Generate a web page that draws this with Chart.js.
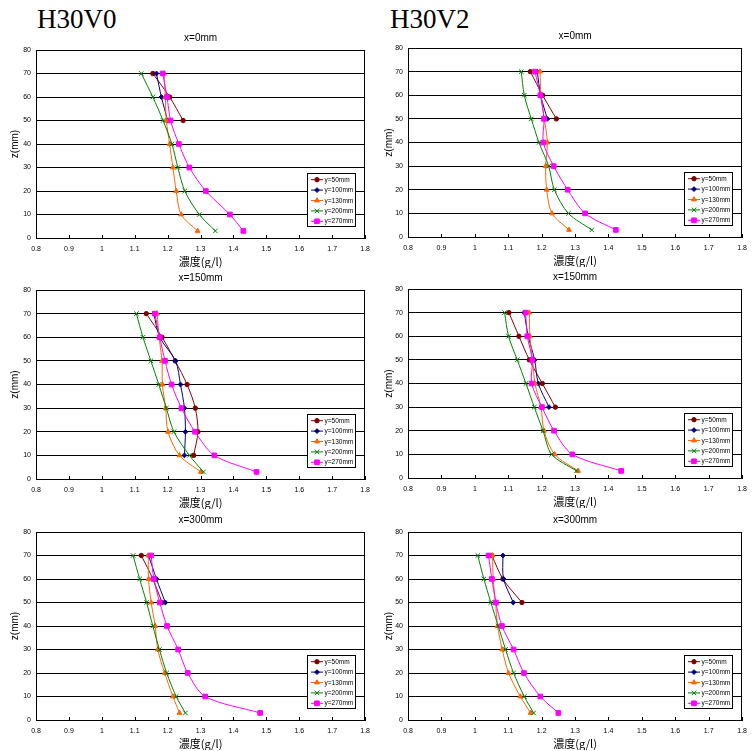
<!DOCTYPE html>
<html><head><meta charset="utf-8">
<script src="https://cdn.jsdelivr.net/npm/chart.js@4.4.0/dist/chart.umd.min.js"></script>
<style>
body{margin:0;background:#fff;width:754px;height:751px;position:relative;overflow:hidden}
canvas{position:absolute}
.big{position:absolute;font-family:"Liberation Serif","Times New Roman",serif;font-size:27px;line-height:27px;color:#000;white-space:nowrap}
</style></head><body>
<div class="big" style="left:37px;top:6px">H30V0</div>
<div class="big" style="left:390px;top:6px">H30V2</div>
<canvas id="cA"></canvas><canvas id="cB"></canvas>
<canvas id="cC"></canvas><canvas id="cD"></canvas>
<canvas id="cE"></canvas><canvas id="cF"></canvas>
<script>
// ---- data ----
const zLevels = [70, 60, 50, 40, 30, 20, 10, 3];
const seriesLabels = ['y=50mm', 'y=100mm', 'y=130mm', 'y=200mm', 'y=270mm'];
const xTickLabels = ['0.8', '0.9', '1', '1.1', '1.2', '1.3', '1.4', '1.5', '1.6', '1.7', '1.8'];
const yTickLabels = ['0', '10', '20', '30', '40', '50', '60', '70', '80'];
const panelTitles = ['x=0mm', 'x=0mm', 'x=150mm', 'x=150mm', 'x=300mm', 'x=300mm'];
const xAxisTitle = '濃度(g/l)';
const yAxisTitle = 'z(mm)';

// H30V0, x=0mm
const a50  = [1.155, 1.206, 1.247];
const a100 = [1.166, 1.181, 1.200];
const a130 = [1.189, 1.193, 1.196, 1.206, 1.216, 1.226, 1.241, 1.291];
const a200 = [1.120, 1.155, 1.186, 1.213, 1.231, 1.252, 1.296, 1.345];
const a270 = [1.185, 1.198, 1.209, 1.234, 1.266, 1.316, 1.389, 1.430];
// H30V2, x=0mm
const b50  = [1.166, 1.203, 1.244];
const b100 = [1.187, 1.197, 1.217];
const b130 = [1.195, 1.198, 1.208, 1.217, 1.212, 1.215, 1.231, 1.282];
const b200 = [1.139, 1.148, 1.169, 1.192, 1.221, 1.238, 1.280, 1.350];
const b270 = [1.180, 1.196, 1.207, 1.205, 1.236, 1.278, 1.330, 1.422];
// H30V0, x=150mm
const c50  = [1.135, 1.183, 1.223, 1.259, 1.284, 1.292, 1.279];
const c100 = [1.158, 1.176, 1.224, 1.239, 1.251, 1.254, 1.251];
const c130 = [1.168, 1.174, 1.183, 1.184, 1.194, 1.201, 1.236, 1.301];
const c200 = [1.105, 1.125, 1.149, 1.173, 1.196, 1.219, 1.266, 1.309];
const c270 = [1.161, 1.176, 1.192, 1.212, 1.242, 1.283, 1.342, 1.470];
// H30V2, x=150mm
const d50  = [1.102, 1.132, 1.163, 1.202, 1.241];
const d100 = [1.148, 1.160, 1.179, 1.190, 1.222];
const d130 = [1.163, 1.165, 1.173, 1.180, 1.198, 1.207, 1.239, 1.309];
const d200 = [1.089, 1.101, 1.127, 1.153, 1.178, 1.204, 1.230, 1.304];
const d270 = [1.152, 1.157, 1.172, 1.170, 1.201, 1.237, 1.292, 1.438];
// H30V0, x=300mm
const e50  = [1.120, 1.155, 1.183];
const e100 = [1.142, 1.166, 1.193];
const e130 = [1.141, 1.142, 1.150, 1.162, 1.170, 1.191, 1.216, 1.236];
const e200 = [1.095, 1.115, 1.136, 1.155, 1.175, 1.197, 1.226, 1.254];
const e270 = [1.150, 1.158, 1.176, 1.198, 1.232, 1.261, 1.314, 1.481];
// H30V2, x=300mm
const f50  = [1.051, 1.084, 1.141];
const f100 = [1.084, 1.086, 1.115];
const f130 = [1.053, 1.055, 1.062, 1.068, 1.082, 1.101, 1.136, 1.167];
const f200 = [1.009, 1.027, 1.048, 1.070, 1.092, 1.116, 1.148, 1.176];
const f270 = [1.041, 1.051, 1.063, 1.081, 1.116, 1.147, 1.196, 1.250];

// ---- styles ----
const seriesColors = ['#800000', '#000080', '#FF6600', '#008000', '#FF00FF'];
const seriesMarkers = ['circle', 'rectRot', 'triangle', 'crossRot', 'rect'];
const markerRadius = [2.2, 2.4, 2.8, 3.2, 3.3];
const FONT = '"Liberation Sans", Arial, sans-serif';

function drawMarker(ctx, style, r, x, y, color) {
  ctx.save();
  ctx.fillStyle = color; ctx.strokeStyle = color; ctx.lineWidth = 1;
  ctx.beginPath();
  if (style === 'circle') {
    ctx.arc(x, y, r, 0, Math.PI * 2);
    ctx.fill(); ctx.stroke();
  } else if (style === 'rectRot') {
    ctx.moveTo(x - r, y); ctx.lineTo(x, y - r); ctx.lineTo(x + r, y); ctx.lineTo(x, y + r); ctx.closePath();
    ctx.fill(); ctx.stroke();
  } else if (style === 'triangle') {
    const h = r * 1.5, s = r * Math.sin(Math.PI / 3);
    ctx.moveTo(x, y - r); ctx.lineTo(x + s, y + r / 2); ctx.lineTo(x - s, y + r / 2); ctx.closePath();
    ctx.fill(); ctx.stroke();
  } else if (style === 'crossRot') {
    const o = r * Math.SQRT1_2;
    ctx.moveTo(x - o, y - o); ctx.lineTo(x + o, y + o);
    ctx.moveTo(x + o, y - o); ctx.lineTo(x - o, y + o);
    ctx.stroke();
  } else {
    const s = r * Math.SQRT1_2;
    ctx.rect(x - s, y - s, 2 * s, 2 * s);
    ctx.fill(); ctx.stroke();
  }
  ctx.restore();
}

const panelPlugin = {
  id: 'panelDeco',
  afterDraw(chart, args, opts) {
    const {ctx, chartArea: a} = chart;
    const xs = chart.scales.x;
    ctx.save();
    ctx.strokeStyle = '#000';
    ctx.lineWidth = 1;
    // inner tick marks on x axis
    xs.ticks.forEach(t => {
      const px = Math.round(xs.getPixelForValue(t.value)) + 0.5;
      ctx.beginPath(); ctx.moveTo(px, a.bottom); ctx.lineTo(px, a.bottom - 3); ctx.stroke();
    });
    // frame
    ctx.strokeRect(Math.round(a.left) + 0.5, Math.round(a.top) + 0.5,
                   Math.round(a.right - a.left) - 1, Math.round(a.bottom - a.top));
    // panel title
    ctx.fillStyle = '#000';
    ctx.font = '10px ' + FONT;
    ctx.textAlign = 'center'; ctx.textBaseline = 'middle';
    ctx.fillText(opts.title, (a.left + a.right) / 2, a.top - 11.5);
    // legend box
    const bw = 48, bh = 53;
    const bx = Math.round(a.right - 10 - bw) + 0.5, by = Math.round(a.bottom - 12 - bh) + 0.5;
    ctx.fillStyle = '#fff';
    ctx.fillRect(bx, by, bw, bh);
    ctx.strokeStyle = '#000';
    ctx.strokeRect(bx, by, bw, bh);
    chart.data.datasets.forEach((ds, i) => {
      const yy = by + 6.2 + i * 10.4;
      ctx.strokeStyle = ds.borderColor; ctx.lineWidth = 1;
      ctx.beginPath(); ctx.moveTo(bx + 3.5, yy); ctx.lineTo(bx + 15.5, yy); ctx.stroke();
      drawMarker(ctx, ds.pointStyle, ds.pointRadius, bx + 9.5, yy, ds.borderColor);
      ctx.fillStyle = '#000';
      ctx.font = '6.5px ' + FONT;
      ctx.textAlign = 'left'; ctx.textBaseline = 'middle';
      ctx.fillText(ds.label, bx + 17, yy + 0.3);
    });
    ctx.restore();
  }
};

function makeChart(id, canvasLeft, g, title, series, yTitlePad) {
  const canvas = document.getElementById(id);
  const W = 377;
  const padTop = 22, axisH = 30;
  const cTop = g.t - padTop;
  const cH = (g.b - g.t) + padTop + axisH;
  canvas.width = W; canvas.height = cH;
  canvas.style.left = canvasLeft + 'px'; canvas.style.top = cTop + 'px';
  canvas.style.width = W + 'px'; canvas.style.height = cH + 'px';
  new Chart(canvas, {
    type: 'scatter',
    data: {
      datasets: series.map((vals, i) => ({
        label: seriesLabels[i],
        data: vals.map((v, j) => ({x: v, y: zLevels[j]})),
        showLine: true,
        borderColor: seriesColors[i],
        backgroundColor: seriesColors[i],
        pointStyle: seriesMarkers[i],
        pointRadius: markerRadius[i],
        pointBorderWidth: 1,
        borderWidth: 1,
        tension: 0.3,
        order: 4 - i
      }))
    },
    options: {
      responsive: false,
      animation: false,
      events: [],
      devicePixelRatio: 1,
      layout: {padding: {top: padTop, left: 0, right: W - (g.r - canvasLeft), bottom: 0}},
      plugins: {
        legend: {display: false},
        tooltip: {enabled: false},
        panelDeco: {title: title}
      },
      scales: {
        x: {
          type: 'linear', min: 0.8, max: 1.8,
          ticks: {stepSize: 0.1, autoSkip: false, maxRotation: 0, minRotation: 0,
                  callback: (v, i) => xTickLabels[i],
                  font: {family: FONT, size: 7}, color: '#000', padding: 7},
          grid: {display: false, drawTicks: false},
          border: {display: true, color: '#000', width: 1},
          title: {display: true, text: xAxisTitle, color: '#000', padding: 0,
                  font: {family: '"Noto Sans CJK JP", sans-serif', size: 11}},
          afterFit: s => { s.height = axisH; }
        },
        y: {
          type: 'linear', min: 0, max: 80,
          ticks: {stepSize: 10, callback: (v, i) => yTickLabels[i],
                  font: {family: FONT, size: 7}, color: '#000', padding: 5},
          grid: {display: true, color: '#000', lineWidth: 1, drawTicks: false},
          border: {display: true, color: '#000', width: 1},
          title: {display: true, text: yAxisTitle, color: '#000', padding: {top: yTitlePad, bottom: 0},
                  font: {family: FONT, size: 10}},
          afterFit: s => { s.width = g.l - canvasLeft; }
        }
      }
    },
    plugins: [panelPlugin]
  });
}

makeChart('cA', 0,   {l: 36,  t: 50,  r: 367, b: 238}, panelTitles[0], [a50, a100, a130, a200, a270], 9);
makeChart('cB', 377, {l: 408, t: 48,  r: 744, b: 237}, panelTitles[1], [b50, b100, b130, b200, b270], 6);
makeChart('cC', 0,   {l: 36,  t: 290, r: 367, b: 479}, panelTitles[2], [c50, c100, c130, c200, c270], 9);
makeChart('cD', 377, {l: 408, t: 289, r: 744, b: 478}, panelTitles[3], [d50, d100, d130, d200, d270], 6);
makeChart('cE', 0,   {l: 36,  t: 532, r: 367, b: 720}, panelTitles[4], [e50, e100, e130, e200, e270], 9);
makeChart('cF', 377, {l: 408, t: 532, r: 743, b: 720}, panelTitles[5], [f50, f100, f130, f200, f270], 6);
</script>
</body></html>
